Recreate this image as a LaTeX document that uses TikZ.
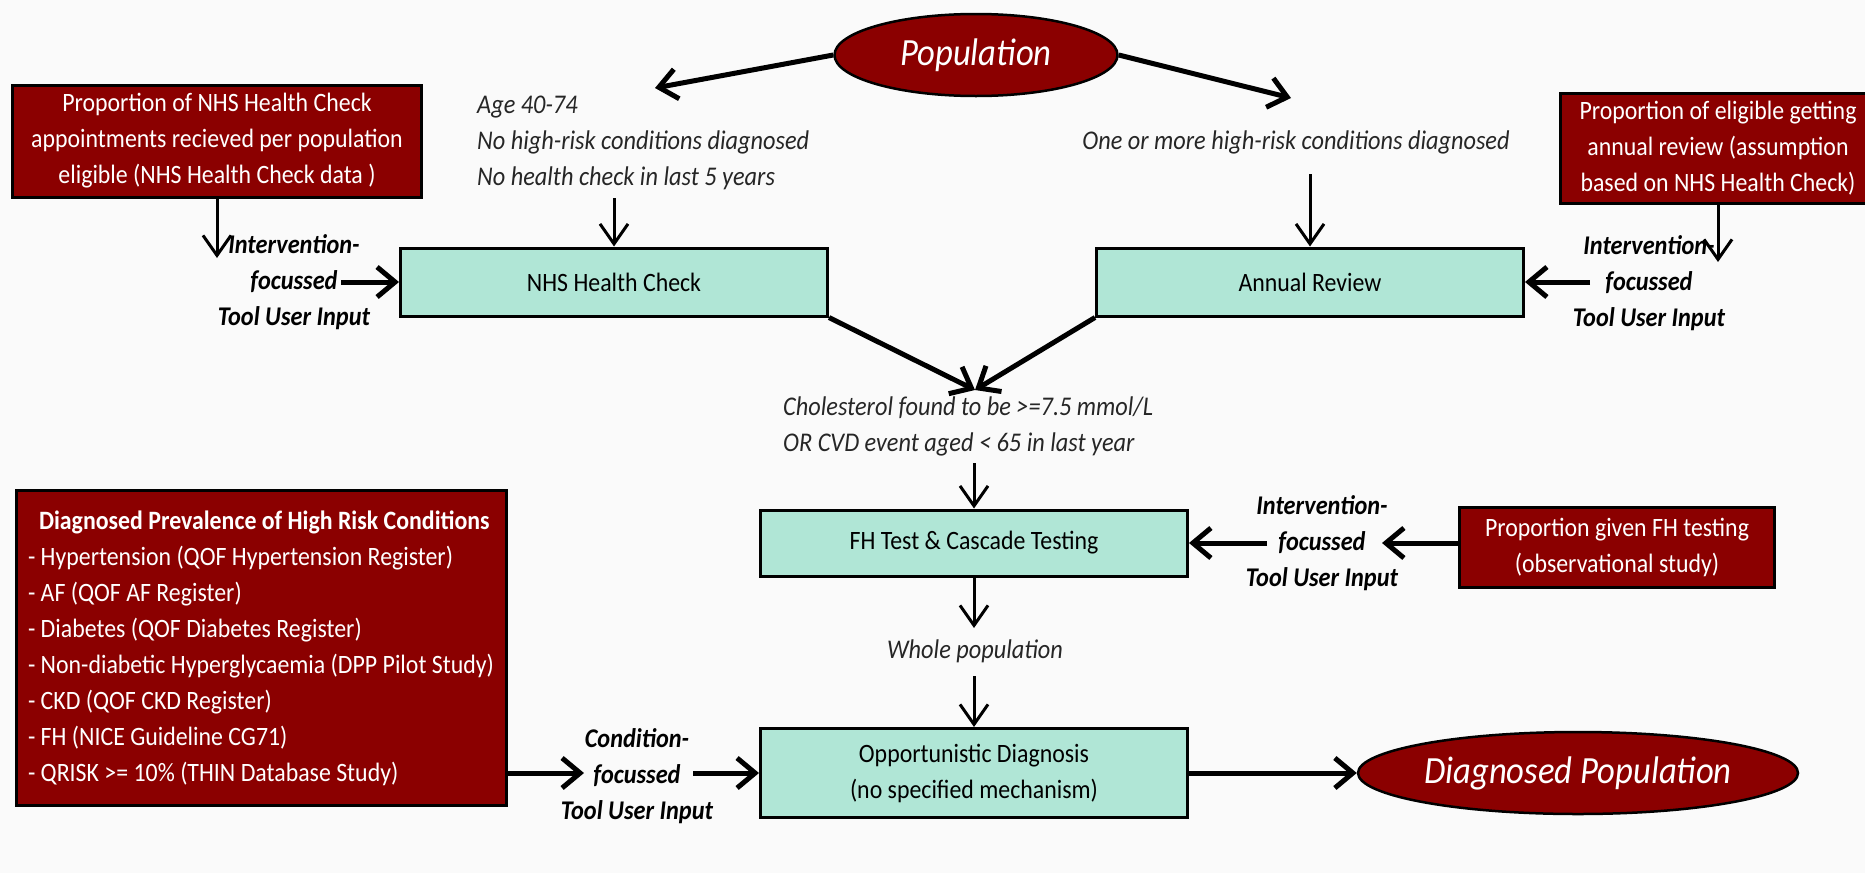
\documentclass[tikz,border=0pt]{standalone}
\usepackage{fontspec}
\setmainfont{Carlito}[FakeStretch=0.9]
\usepackage{tikz}
\usetikzlibrary{arrows.meta,shapes.geometric}
\definecolor{boxred}{RGB}{139,0,0}
\definecolor{mint}{RGB}{176,230,214}
\definecolor{paper}{RGB}{250,250,250}
\tikzset{
  redbox/.style={draw=black, line width=3pt, fill=boxred, text=white, align=center, inner sep=0pt},
  stagebox/.style={draw=black, line width=3pt, fill=mint, align=center, minimum width=427pt, inner sep=0pt},
  redoval/.style={ellipse, draw=black, line width=2.5pt, fill=boxred, text=white, inner sep=0pt,
    font=\fontsize{38.5}{40}\selectfont\itshape},
  note/.style={font=\fontsize{27}{36}\selectfont\itshape, text=black!85, inner sep=0pt},
  userinput/.style={font=\fontsize{27}{36}\selectfont\bfseries\itshape, align=center, inner sep=0pt},
  thinarr/.style={-{Straight Barb[length=20pt,width=28pt]}, line width=3pt},
  thickarr/.style={-{Straight Barb[length=18pt,width=30pt]}, line width=5pt}
}

\begin{document}
\begin{tikzpicture}[x=1pt, y=-1pt, font=\fontsize{26.5}{36}\selectfont]
    \fill [paper] (0,0) rectangle (1865,873);
    \useasboundingbox (0,0) rectangle (1865,873);

    % top row
    \node [redoval, minimum width=283pt, minimum height=82pt] (pop) at (976,55) {Population};
    \coordinate (popL) at (655,88);
    \coordinate (popR) at (1291,98);
    \node [redbox, minimum width=409pt, minimum height=112pt] (propnhs) at (217,141)
      {Proportion of NHS Health Check\\appointments recieved per population\\eligible (NHS Health Check data )};
    \node [note, anchor=west, align=left] (age) at (477,143)
      {Age 40-74\\No high-risk conditions diagnosed\\No health check in last 5 years};
    \node [note] (high) at (1296,142) {One or more high-risk conditions diagnosed};
    \node [redbox, minimum width=316pt, minimum height=110pt] (proprev) at (1718,148)
      {Proportion of eligible getting\\annual review (assumption\\based on NHS Health Check)};

    % checks
    \node [stagebox, minimum height=68pt] (nhs) at (614,282) {NHS Health Check};
    \node [stagebox, minimum height=68pt] (annual) at (1310,282) {Annual Review};
    \node [userinput] (ivl) at (294,282) {Intervention-\\focussed\\Tool User Input};
    \node [userinput] (ivr) at (1649,283) {Intervention-\\focussed\\Tool User Input};
    \coordinate (meet) at (975,390);
    \node [note, anchor=west, align=left] (chol) at (783,426)
      {Cholesterol found to be >=7.5 mmol/L\\OR CVD event aged < 65 in last year};

    % FH testing
    \node [stagebox, minimum height=66pt] (fh) at (974,543) {FH Test \& Cascade Testing};
    \node [userinput] (ivm) at (1322,543) {Intervention-\\focussed\\Tool User Input};
    \node [redbox, minimum width=315pt, minimum height=80pt] (propfh) at (1617,547)
      {Proportion given FH testing\\(observational study)};
    \node [note] (whole) at (975,651) {Whole population};

    % bottom row
    \node [stagebox, minimum height=89pt] (opp) at (974,773) {Opportunistic Diagnosis\\(no specified mechanism)};
    \node [redoval, minimum width=440pt, minimum height=82pt] (diag) at (1578,773) {Diagnosed Population};
    \node [redbox, minimum width=490pt, minimum height=315pt, align=left] (prev) at (261,648)
      {\hspace*{11pt}\textbf{Diagnosed Prevalence of High Risk Conditions}\\
       - Hypertension (QOF Hypertension Register)\\
       - AF (QOF AF Register)\\
       - Diabetes (QOF Diabetes Register)\\
       - Non-diabetic Hyperglycaemia (DPP Pilot Study)\\
       - CKD (QOF CKD Register)\\
       - FH (NICE Guideline CG71)\\
       - QRISK >= 10\% (THIN Database Study)};
    \node [userinput] (cond) at (637,776) {Condition-\\focussed\\Tool User Input};

    % connectors
    \draw [thickarr] (pop.west) -- (popL);
    \draw [thickarr] (pop.east) -- (popR);
    \coordinate (ageOut) at (614,198);
    \draw [thinarr] (ageOut) -- (nhs.north);
    \coordinate (highOut) at (1310,174);
    \draw [thinarr] (highOut) -- (annual.north);
    \coordinate (ivlIn) at (217,258);
    \draw [thinarr] (propnhs.south) -- (ivlIn);
    \coordinate (ivlOut) at (341,282);
    \draw [thickarr] (ivlOut) -- (nhs.west);
    \coordinate (ivrIn) at (1718,262);
    \draw [thinarr] (proprev.south) -- (ivrIn);
    \coordinate (ivrOut) at (1590,282);
    \draw [thickarr] (ivrOut) -- (annual.east);
    \draw [thickarr] (nhs.south east) -- (meet);
    \draw [thickarr] (annual.south west) -- (meet);
    \coordinate (cholOut) at (974,463);
    \draw [thinarr] (cholOut) -- (fh.north);
    \coordinate (ivmOut) at (1267,543);
    \draw [thickarr] (ivmOut) -- (fh.east);
    \coordinate (ivmIn) at (1382,543);
    \draw [thickarr] (propfh.west |- ivmIn) -- (ivmIn);
    \coordinate (wholeIn) at (974,628);
    \draw [thinarr] (fh.south) -- (wholeIn);
    \coordinate (wholeOut) at (974,676);
    \draw [thinarr] (wholeOut) -- (opp.north);
    \draw [thickarr] (opp.east) -- (diag.west);
    \coordinate (condIn) at (584,773);
    \draw [thickarr] (prev.east |- condIn) -- (condIn);
    \coordinate (condOut) at (693,773);
    \draw [thickarr] (condOut) -- (opp.west);
\end{tikzpicture}
\end{document}
